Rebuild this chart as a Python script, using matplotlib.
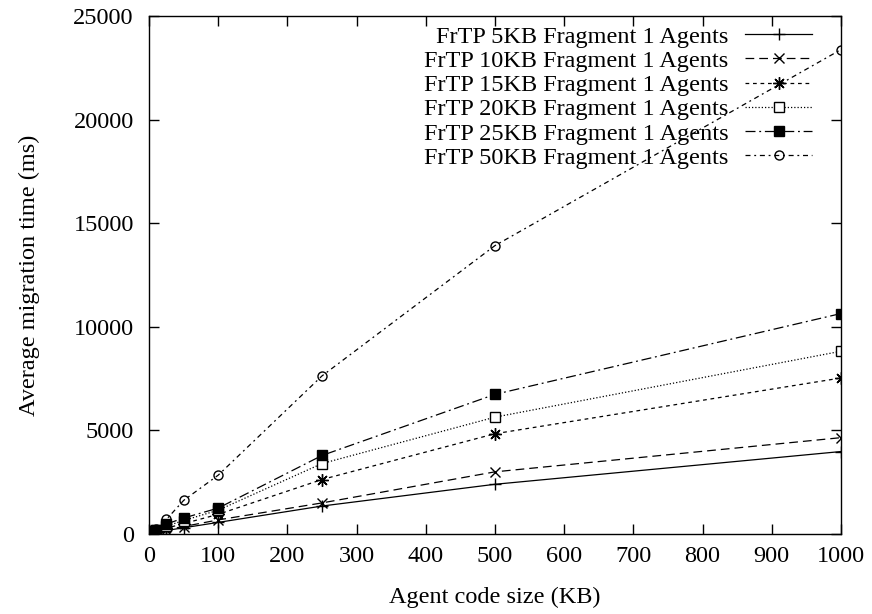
import matplotlib
matplotlib.use("Agg")
import matplotlib.pyplot as plt

# agent code sizes (KB)
code_size = [1, 5, 10, 25, 50, 100, 250, 500, 1000]

# average migration time (ms), one list per fragment size
frag_5kb = [60, 80, 100, 170, 300, 560, 1350, 2400, 3980]
frag_10kb = [70, 100, 130, 210, 360, 680, 1500, 3000, 4650]
frag_15kb = [80, 110, 150, 280, 500, 950, 2630, 4840, 7530]
frag_20kb = [90, 120, 170, 380, 650, 1150, 3400, 5640, 8820]
frag_25kb = [100, 130, 190, 480, 770, 1250, 3790, 6740, 10640]
frag_50kb = [120, 170, 260, 700, 1620, 2840, 7630, 13920, 23380]

labels = ["FrTP 5KB Fragment 1 Agents", "FrTP 10KB Fragment 1 Agents",
          "FrTP 15KB Fragment 1 Agents", "FrTP 20KB Fragment 1 Agents",
          "FrTP 25KB Fragment 1 Agents", "FrTP 50KB Fragment 1 Agents"]

plt.rcParams['font.family'] = ['Liberation Serif', 'DejaVu Serif']
plt.rcParams['font.size'] = 17.5

fig = plt.figure(figsize=(8.72, 6.14), dpi=100)
ax = fig.add_axes([0.1709, 0.1303, 0.7935, 0.8436])

lw = 0.9
# gnuplot-like monochrome line types
ax.plot(code_size, frag_5kb, color='black', lw=lw, linestyle='-',
        marker='+', markersize=9, markeredgewidth=1, label=labels[0])
ax.plot(code_size, frag_10kb, color='black', lw=lw, linestyle=(0, (7, 4)),
        marker='x', markersize=7, markeredgewidth=1, label=labels[1])
ax.plot(code_size, frag_15kb, color='black', lw=lw, linestyle=(0, (3, 3)),
        marker=(8, 2, 0), markersize=9, markeredgewidth=1, label=labels[2])
ax.plot(code_size, frag_20kb, color='black', lw=lw, linestyle=(0, (1, 1.6)),
        marker='s', markersize=6.5, markerfacecolor='white', markeredgewidth=1, label=labels[3])
ax.plot(code_size, frag_25kb, color='black', lw=lw, linestyle=(0, (8, 3, 1.5, 3)),
        marker='s', markersize=6.5, markerfacecolor='black', label=labels[4])
ax.plot(code_size, frag_50kb, color='black', lw=lw, linestyle=(0, (4, 3, 1.5, 3)),
        marker='o', markersize=6.5, markerfacecolor='none', markeredgewidth=1, label=labels[5])

ax.set_xlim(0, 1000)
ax.set_ylim(0, 25000)
ax.set_xticks(range(0, 1001, 100))
ax.set_yticks(range(0, 25001, 5000))
ax.tick_params(direction='in', length=7, width=1, top=True, right=True)
ax.tick_params(axis='x', pad=9)
ax.tick_params(axis='y', pad=11)
for s in ax.spines.values():
    s.set_linewidth(1)

ax.set_xlabel("Agent code size (KB)", labelpad=14)
ax.set_ylabel("Average migration time (ms)", labelpad=24)

leg = ax.legend(loc='upper right', markerfirst=False, frameon=False,
                handlelength=2.75, handletextpad=0.7, labelspacing=0.09,
                borderaxespad=0, bbox_to_anchor=(0.9725, 1.0))
# right-align the legend rows like gnuplot does
for col in leg._legend_box._children[1]._children:
    col.align = 'right'

fig.savefig("out.png", dpi=100)
